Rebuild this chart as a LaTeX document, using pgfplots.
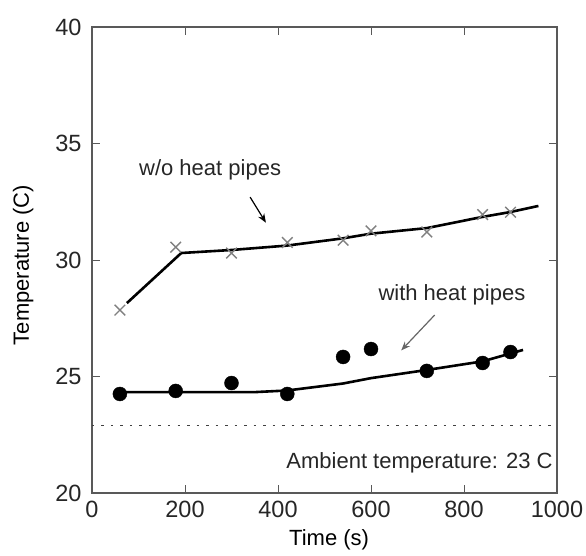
\documentclass[border=0pt]{standalone}
\usepackage{fontspec}
\setmainfont{Liberation Sans}
\usepackage{pgfplots}
\pgfplotsset{compat=1.18}
\usetikzlibrary{arrows.meta}
\definecolor{txt}{HTML}{262626}
\begin{document}
\fontsize{22}{26}\selectfont
\begin{tikzpicture}
\begin{axis}[
  at={(0,0)}, anchor=south west,
  width=465pt, height=466pt, scale only axis,
  xmin=0, xmax=1000, ymin=20, ymax=40,
  xtick={0,200,...,1000}, ytick={20,25,...,40},
  tick align=inside, tickwidth=8pt,
  xtick pos=both, ytick pos=both,
  every tick/.style={draw=black!65, line width=1pt},
  axis line style={black!65, line width=1.1pt},
  xlabel={Time (s)}, ylabel={Temperature (C)},
  /pgf/number format/assume math mode=true,
  /pgf/number format/1000 sep={},
  ticklabel style={font=\fontsize{23.5}{26}\selectfont, text=txt},
  label style={font=\fontsize{22}{26}\selectfont, text=txt},
  xticklabel style={yshift=-1pt},
  yticklabel style={xshift=-3pt},
  every axis x label/.style={at={(axis description cs:0.51,-0.101)}, anchor=center},
  every axis y label/.style={at={(axis description cs:-0.148,0.489)}, anchor=center, rotate=90},
  clip=false,
]
% ambient
\addplot[black!75, line width=0.9pt, dash pattern=on 2.5pt off 7pt] coordinates {(0,22.92) (1000,22.92)};
% w/o heat pipes line
\addplot[black, line width=2.6pt] coordinates {
(75,28.15) (192,30.3) (300,30.43) (420,30.62) (540,30.93) (600,31.13) (720,31.37) (840,31.85) (900,32.06) (960,32.32)};
% w/o crosses
\addplot[only marks, mark=x, mark size=7.5pt, draw=black!50, mark options={line width=1.4pt}] coordinates {
(60,27.85) (180,30.55) (300,30.3) (420,30.75) (540,30.85) (600,31.25) (720,31.2) (840,31.95) (900,32.05)};
% with heat pipes line
\addplot[black, line width=2.6pt] coordinates {
(60,24.33) (350,24.33) (420,24.4) (540,24.7) (600,24.93) (720,25.28) (840,25.65) (927,26.14)};
% with dots
\addplot[only marks, mark=*, mark size=7pt, black] coordinates {
(60,24.25) (180,24.38) (300,24.72) (420,24.25) (540,25.84) (600,26.18) (720,25.24) (840,25.58) (900,26.05)};
% annotations
\node[text=txt] at (axis cs:254,33.86) {w/o heat pipes};
\draw[-{Stealth[length=9pt,width=7pt]}, black, line width=1.2pt] (axis cs:340,32.7) -- (axis cs:374,31.6);
\node[text=txt] at (axis cs:774,28.5) {with heat pipes};
\draw[-{Stealth[length=9pt,width=7pt]}, black!60, line width=1.2pt] (axis cs:737,27.64) -- (axis cs:665,26.12);
\node[text=txt, anchor=east, inner sep=0pt] at (axis cs:991,21.3) {Ambient temperature: 23 C};
\end{axis}
\pgfresetboundingbox
\useasboundingbox (-92pt,-62pt) rectangle (494pt,493pt);
\end{tikzpicture}
\end{document}
